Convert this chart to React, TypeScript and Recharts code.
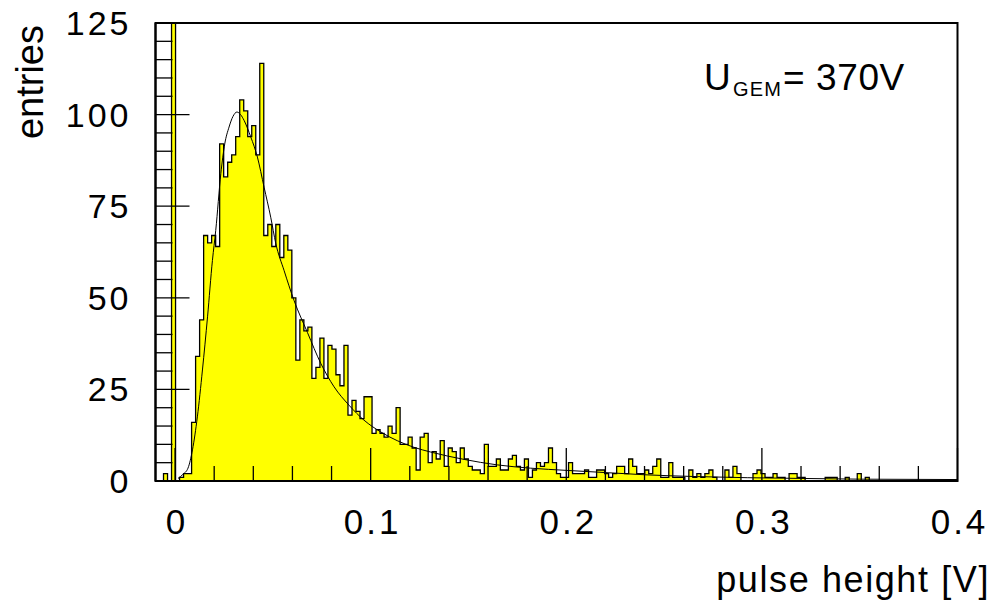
import { ComposedChart, Area, Line, XAxis, YAxis, ReferenceArea } from 'recharts';

// histogram: 200 bins from -0.01 to 0.4 V
const BIN_LO = -0.01;
const BIN_HI = 0.4;
const N_BINS = 200;

// entries per bin (bin 4 is the pedestal spike, off scale)
const COUNTS = [
  0, 0, 2, 0, 300, 0, 1, 2, 2, 16,
  34, 44, 67, 65, 67, 64, 92, 83, 87, 89,
  94, 104, 101, 94, 97, 89, 114, 67, 70, 64,
  70, 61, 67, 63, 50, 33, 44, 41, 42, 28,
  31, 39, 28, 37, 36, 29, 26, 37, 18, 22,
  19, 17, 23, 23, 13, 14, 13, 12, 15, 13,
  20, 10, 10, 12, 9, 3, 12, 13, 5, 8,
  6, 11, 4, 9, 8, 5, 9, 6, 4, 3,
  3, 2, 10, 4, 4, 6, 3, 3, 6, 7,
  4, 3, 6, 1, 3, 5, 4, 5, 9, 5,
  2, 1, 1, 5, 2, 2, 2, 3, 1, 1,
  3, 3, 2, 1, 2, 4, 4, 2, 6, 4,
  2, 2, 3, 2, 4, 6, 1, 1, 5, 1,
  1, 1, 0, 3, 1, 2, 1, 2, 3, 1,
  0, 0, 3, 1, 4, 2, 0, 0, 0, 2,
  3, 2, 1, 1, 2, 1, 1, 0, 2, 2,
  1, 1, 0, 0, 0, 0, 0, 1, 1, 1,
  0, 0, 1, 0, 0, 2, 0, 1, 0, 0,
  0, 0, 0, 0, 0, 0, 0, 0, 0, 0,
  0, 0, 0, 0, 0, 0, 0, 0, 0, 0
];

// fitted curve
const FIT_X = [
  0.0015, 0.004, 0.0066, 0.0089, 0.0114, 0.014, 0.0166, 0.0191, 0.0208, 0.0234,
  0.0254, 0.0276, 0.0296, 0.0316, 0.0335, 0.0353, 0.0387, 0.0421, 0.0455, 0.0489,
  0.0515, 0.0557, 0.0608, 0.0677, 0.0745, 0.0813, 0.0889, 0.0966, 0.1051, 0.1136,
  0.1221, 0.1307, 0.1477, 0.1647, 0.1818, 0.2, 0.22, 0.24, 0.267, 0.2925,
  0.32, 0.35, 0.4
];
const FIT_Y = [
  0.7, 1.8, 3.5, 8.5, 17.5, 30.3, 44.8, 60.2, 68.4, 83.9,
  92, 96.6, 99.5, 100.7, 100, 98.4, 93.9, 88.4, 80.2, 72,
  64.8, 57.5, 49.3, 40.5, 32.1, 25.7, 20.7, 16.6, 13.4, 11,
  9.2, 7.9, 5.9, 4.4, 3.5, 2.9, 2.3, 1.7, 1.2, 0.9,
  0.7, 0.5, 0.4
];

const X_TICKS = [
  0, 0.02, 0.04, 0.06, 0.08, 0.1, 0.12, 0.14, 0.16, 0.18,
  0.2, 0.22, 0.24, 0.26, 0.28, 0.3, 0.32, 0.34, 0.36, 0.38, 0.4
];
const Y_TICKS = [
  0, 5, 10, 15, 20, 25, 30, 35, 40, 45, 50, 55, 60, 65, 70, 75,
  80, 85, 90, 95, 100, 105, 110, 115, 120, 125
];

const FONT = '"Liberation Sans", Arial, Helvetica, sans-serif';

const binWidth = (BIN_HI - BIN_LO) / N_BINS;
const histData = COUNTS.map((c, i) => ({ x: BIN_LO + i * binWidth, n: c }));
histData.push({ x: BIN_HI, n: COUNTS[COUNTS.length - 1] });

const fitData = FIT_X.map((x, i) => ({ x, f: FIT_Y[i] }));

const YTick = (props: any) => {
  const { x, y, payload } = props;
  const v = payload.value;
  const major = v % 25 === 0;
  return (
    <g>
      <line x1={x} x2={x + (major ? 34 : 17)} y1={y} y2={y} stroke="#000" strokeWidth={1.3} />
      {major && (
        <text x={x - 24} y={y + 12} textAnchor="end" fontSize={34} letterSpacing={3} fontFamily={FONT} fill="#000">
          {v}
        </text>
      )}
    </g>
  );
};

const XTick = (props: any) => {
  const { x, y, payload } = props;
  const v = payload.value;
  const major = Math.abs(v * 10 - Math.round(v * 10)) < 1e-6;
  return (
    <g>
      <line x1={x} x2={x} y1={y} y2={y - (major ? 33 : 15)} stroke="#000" strokeWidth={1.3} />
      {major && (
        <text x={x + 2} y={y + 53} textAnchor="middle" fontSize={35} letterSpacing={3} fontFamily={FONT} fill="#000">
          {v === 0 ? '0' : String(v)}
        </text>
      )}
    </g>
  );
};

export default function App() {
  return (
    <div style={{ position: 'absolute', left: 0, top: 0, width: 995, height: 608, background: '#fff' }}>
      <ComposedChart
        width={995}
        height={608}
        data={histData}
        margin={{ top: 23, right: 37.5, bottom: 67, left: 0 }}
      >
        <XAxis
          dataKey="x"
          type="number"
          domain={[BIN_LO, BIN_HI]}
          allowDataOverflow
          ticks={X_TICKS}
          interval={0}
          tick={<XTick />}
          tickSize={0}
          tickMargin={0}
          tickLine={false}
          height={60}
          axisLine={{ stroke: '#000', strokeWidth: 2 }}
        />
        <YAxis
          type="number"
          domain={[0, 125]}
          allowDataOverflow
          ticks={Y_TICKS}
          interval={0}
          tick={<YTick />}
          tickSize={0}
          tickMargin={0}
          tickLine={false}
          width={155.5}
          axisLine={{ stroke: '#000', strokeWidth: 2 }}
        />
        <Area
          type="stepAfter"
          dataKey="n"
          stroke="#000"
          strokeWidth={1.3}
          fill="#ffff00"
          fillOpacity={1}
          dot={false}
          activeDot={false}
          isAnimationActive={false}
        />
        <Line
          data={fitData}
          dataKey="f"
          type="monotone"
          stroke="#000"
          strokeWidth={1}
          dot={false}
          activeDot={false}
          isAnimationActive={false}
        />
        {/* frame around the pad */}
        <ReferenceArea
          x1={BIN_LO}
          x2={BIN_HI}
          y1={0}
          y2={125}
          fill="none"
          stroke="#000"
          strokeWidth={2}
          ifOverflow="visible"
        />
      </ComposedChart>
      <svg
        width={995}
        height={608}
        style={{ position: 'absolute', left: 0, top: 0, pointerEvents: 'none' }}
      >
        <text transform="translate(43, 25) rotate(-90)" textAnchor="end" fontSize={38} fontFamily={FONT} fill="#000">
          entries
        </text>
        <text x={990} y={592} textAnchor="end" fontSize={36} fontFamily={FONT} fill="#000" letterSpacing={1.6}>
          pulse height [V]
        </text>
        <text x={704} y={90} fontSize={37} fontFamily={FONT} fill="#000">
          U
        </text>
        <text x={733} y={96} fontSize={20} fontFamily={FONT} fill="#000" letterSpacing={1.2}>
          GEM
        </text>
        <text x={783} y={90} fontSize={37} fontFamily={FONT} fill="#000" letterSpacing={0.6}>
          = 370V
        </text>
      </svg>
    </div>
  );
}
